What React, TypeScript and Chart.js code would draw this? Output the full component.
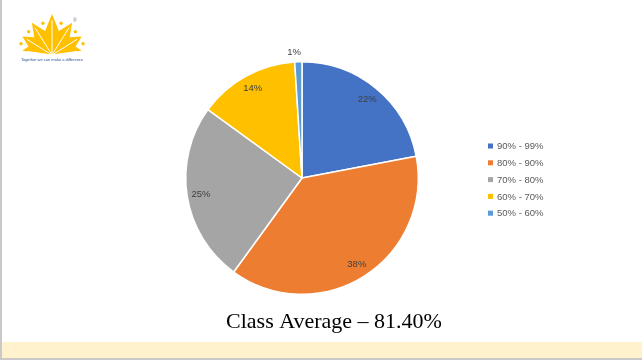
import React, { useEffect, useRef } from "react";
import { Chart, registerables } from "chart.js";

Chart.register(...registerables);

const categories = ["90% - 99%", "80% - 90%", "70% - 80%", "60% - 70%", "50% - 60%"];
const shares = [22, 38, 25, 14, 1];
const colors = ["#4472C4", "#ED7D31", "#A5A5A5", "#FFC000", "#5B9BD5"];
const titleText = "Class Average \u2013 81.40%";
const logoText = "Together we can make a difference";

const decorPlugin = {
  id: "decor",
  beforeDraw(chart: any) {
    const ctx = chart.ctx as CanvasRenderingContext2D;
    const W = chart.width;
    const H = chart.height;
    ctx.save();
    ctx.fillStyle = "#ffffff";
    ctx.fillRect(0, 0, W, H);
    // bottom band
    ctx.fillStyle = "#FFF2CC";
    ctx.fillRect(0, 342, W, 17);
    // frame lines
    ctx.fillStyle = "#C9C9C9";
    ctx.fillRect(0, 0, 2, H);
    ctx.fillRect(0, H - 2, W, 2);

    // logo
    const cx = 52, cy = 55;
    const tips = [172, 148, 122, 90, 58, 32, 8];
    const tipR = [30, 35, 38, 41, 38, 35, 30];
    ctx.fillStyle = "#FFC000";
    ctx.beginPath();
    ctx.moveTo(cx, cy);
    for (let i = 0; i < tips.length; i++) {
      const a = (tips[i] * Math.PI) / 180;
      if (i > 0) {
        const va = ((tips[i] + tips[i - 1]) / 2) * Math.PI / 180;
        ctx.lineTo(cx + Math.cos(va) * 25, cy - Math.sin(va) * 25);
      }
      ctx.lineTo(cx + Math.cos(a) * tipR[i], cy - Math.sin(a) * tipR[i]);
    }
    ctx.closePath();
    ctx.fill();
    ctx.strokeStyle = "#ffffff";
    ctx.lineWidth = 1;
    for (let i = 0; i < tips.length; i++) {
      const a = (tips[i] * Math.PI) / 180;
      ctx.beginPath();
      ctx.moveTo(cx, cy);
      ctx.lineTo(cx + Math.cos(a) * tipR[i] * 0.85, cy - Math.sin(a) * tipR[i] * 0.85);
      ctx.stroke();
    }
    ctx.fillStyle = "#FFC000";
    for (let i = 1; i < tips.length; i++) {
      const va = ((tips[i] + tips[i - 1]) / 2) * Math.PI / 180;
      ctx.beginPath();
      ctx.arc(cx + Math.cos(va) * 33, cy - Math.sin(va) * 33, 1.7, 0, Math.PI * 2);
      ctx.fill();
    }
    ctx.fillStyle = "#777777";
    ctx.font = "5px 'Liberation Sans'";
    ctx.fillText("\u00AE", 73, 22);
    ctx.fillStyle = "#2E5597";
    ctx.font = "4px 'Liberation Sans'";
    ctx.textAlign = "center";
    ctx.fillText(logoText, 52, 61);
    ctx.restore();
  },
  afterDraw(chart: any) {
    const ctx = chart.ctx as CanvasRenderingContext2D;
    ctx.save();
    // arc labels
    const meta = chart.getDatasetMeta(0);
    const total = shares.reduce((a, b) => a + b, 0);
    ctx.font = "9.5px 'Liberation Sans'";
    ctx.fillStyle = "#404040";
    ctx.textAlign = "center";
    ctx.textBaseline = "middle";
    meta.data.forEach((arc: any, i: number) => {
      const { x, y, startAngle, endAngle, outerRadius } = arc.getProps(["x", "y", "startAngle", "endAngle", "outerRadius"], true);
      const mid = (startAngle + endAngle) / 2;
      const pct = (shares[i] / total) * 100;
      const r = pct < 3 ? outerRadius + 9 : outerRadius * 0.88;
      const lx = x + Math.cos(mid) * r;
      const ly = y + Math.sin(mid) * r;
      ctx.fillText(Math.round(pct) + "%", pct < 3 ? lx - 4 : lx, ly);
    });
    // legend
    ctx.textAlign = "left";
    ctx.textBaseline = "middle";
    categories.forEach((c, i) => {
      const y = 146 + i * 16.8;
      ctx.fillStyle = colors[i];
      ctx.fillRect(488, y - 2.5, 5, 5);
      ctx.fillStyle = "#595959";
      ctx.fillText(c, 497, y + 0.5);
    });
    // title
    ctx.fillStyle = "#000000";
    ctx.font = "22px 'Liberation Serif'";
    ctx.textAlign = "center";
    ctx.textBaseline = "alphabetic";
    ctx.fillText(titleText, 334, 328);
    ctx.restore();
  },
};

export default function App() {
  const ref = useRef<HTMLCanvasElement>(null);
  useEffect(() => {
    document.body.style.margin = "0";
    const chart = new Chart(ref.current!, {
      type: "pie",
      data: {
        labels: categories,
        datasets: [
          {
            data: shares,
            backgroundColor: colors,
            borderColor: "#ffffff",
            borderWidth: 1.5,
          },
        ],
      },
      options: {
        responsive: false,
        animation: false,
        rotation: 0,
        layout: { padding: { left: 185, right: 223, top: 61, bottom: 65 } },
        plugins: {
          legend: { display: false },
          tooltip: { enabled: false },
          title: { display: false },
        },
      },
      plugins: [decorPlugin],
    });
    return () => chart.destroy();
  }, []);
  return (
    <div style={{ width: 642, height: 360 }}>
      <canvas ref={ref} width={642} height={360} style={{ display: "block" }} />
    </div>
  );
}
